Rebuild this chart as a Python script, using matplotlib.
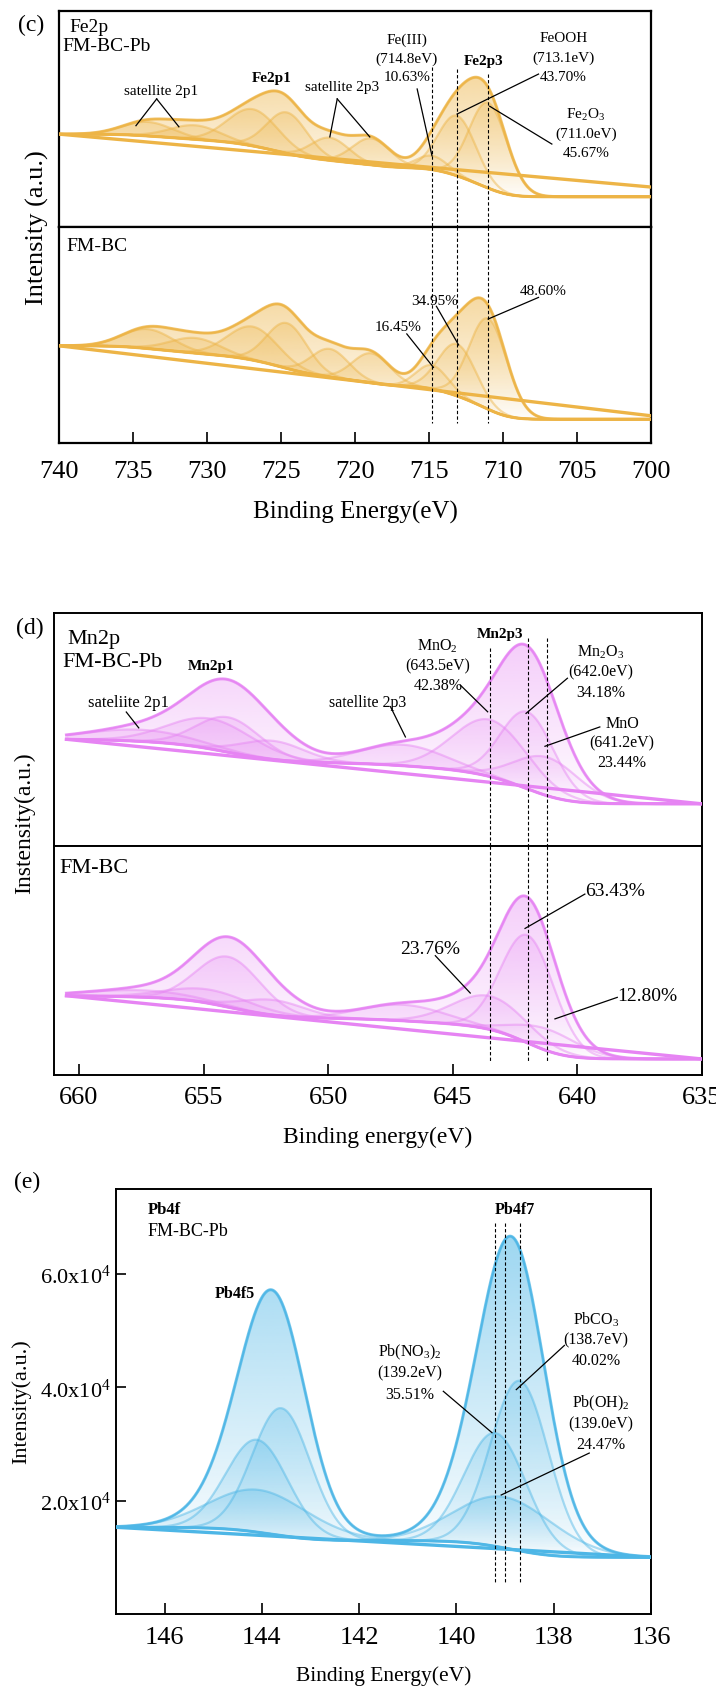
import numpy as np
import matplotlib
matplotlib.use('Agg')
import matplotlib.pyplot as plt
from matplotlib.path import Path
from matplotlib.patches import PathPatch
from matplotlib.colors import to_rgb

plt.rcParams['font.family'] = ['Liberation Serif', 'DejaVu Serif']
plt.rcParams['mathtext.fontset'] = 'custom'
plt.rcParams['mathtext.rm'] = 'Liberation Serif'
plt.rcParams['mathtext.it'] = 'Liberation Serif:italic'
plt.rcParams['mathtext.bf'] = 'Liberation Serif:bold'

# ---- Fe2p fit (c) : peak centre (eV), height (a.u.), fwhm (eV)
fe_centers = [734.0, 730.8, 726.9, 724.6, 721.7, 718.9, 714.8, 713.1, 711.0]
fe_fwhm = [4.0, 4.0, 4.0, 3.2, 3.0, 3.0, 2.5, 3.0, 3.0]
fe_pb_heights = [6.5, 6.5, 17.0, 19.0, 10.5, 12.3, 6.4, 27.8, 39.5]
fe_bc_heights = [9.0, 7.0, 15.5, 21.0, 13.0, 13.7, 11.0, 24.0, 42.0]
fe_pb_bg = [43.0, 14.0, 18.5]   # high-BE end, low-BE end, end of linear line
fe_bc_bg = [45.0, 11.0, 12.6]
fe_range = [740, 700]
fe_ticks = [740, 735, 730, 725, 720, 715, 710, 705, 700]
fe_marks = [714.8, 713.1, 711.0]

# ---- Mn2p fit (d)
mn_centers = [657.5, 654.7, 654.0, 652.2, 647.0, 643.5, 642.0, 641.2]
mn_fwhm = [5.0, 4.0, 3.0, 3.0, 4.0, 3.5, 2.5, 3.0]
mn_pb_heights = [5.0, 13.0, 15.0, 8.0, 9.0, 24.4, 33.0, 16.5]
mn_bc_heights = [3.0, 6.0, 22.0, 6.6, 7.0, 14.6, 47.0, 9.5]
mn_pb_bg = [45.8, 18.1, 18.1]
mn_bc_bg = [34.6, 7.0, 7.0]
mn_range = [660.5, 635]
mn_ticks = [660, 655, 650, 645, 640, 635]
mn_marks = [643.5, 642.0, 641.2]

# ---- Pb4f fit (e)
pb_centers = [144.1, 144.05, 143.6, 139.2, 139.0, 138.7]
pb_fwhm = [1.5, 2.4, 1.4, 1.5, 2.4, 1.4]
pb_heights = [1.63e4, 0.75e4, 2.25e4, 2.0e4, 0.9e4, 3.0e4]
pb_bg = [1.53e4, 1.0e4, 1.0e4]
pb_range = [147, 136]
pb_xticks = [146, 144, 142, 140, 138, 136]
pb_yticks = [2e4, 4e4, 6e4]
pb_marks = [139.2, 139.0, 138.7]

FE = '#EDB446'
MN = '#E684F3'
PB = '#4DB6E6'

W, H = 716, 1690
fig = plt.figure(figsize=(W / 100, H / 100), dpi=100)


def box(left, top, right, bottom):
    return fig.add_axes([left / W, 1 - bottom / H, (right - left) / W, (bottom - top) / H])


def gauss(x, c, h, w):
    return h * np.exp(-4 * np.log(2) * (x - c) ** 2 / w ** 2)


def grad_fill(ax, x, ytop, ybot, color, a_top, a_bot, z):
    verts = np.concatenate([np.column_stack([x, ytop]), np.column_stack([x[::-1], ybot[::-1]])])
    patch = PathPatch(Path(verts), facecolor='none', edgecolor='none')
    ax.add_patch(patch)
    rgba = np.zeros((256, 1, 4))
    rgba[..., :3] = to_rgb(color)
    rgba[..., 3] = np.linspace(a_top, a_bot, 256)[:, None]
    im = ax.imshow(rgba, extent=[x.min(), x.max(), ybot.min(), ytop.max()],
                   aspect='auto', origin='upper', zorder=z, interpolation='bilinear')
    im.set_clip_path(patch)


def spectrum(ax, xr, centers, heights, fwhm, bg_vals, color, fill_a=0.32, env_a=0.5):
    x = np.linspace(xr[0], xr[1], 1200)
    comps = np.array([gauss(x, c, h, w) for c, h, w in zip(centers, heights, fwhm)])
    tot = comps.sum(axis=0)
    cum = np.cumsum(tot[::-1])[::-1]
    hi, lo, lend = bg_vals
    bg = lo + (hi - lo) * cum / cum[0]
    env = bg + tot
    grad_fill(ax, x, env, bg, color, env_a, 0.02, 1)
    for comp in comps:
        grad_fill(ax, x, bg + comp, bg, color, fill_a, 0.0, 2)
        ax.plot(x, bg + comp, color=color, lw=1.6, alpha=0.45, zorder=3)
    ax.plot(x, env, color=color, lw=2.2, alpha=0.75, zorder=4)
    ax.plot(x, env, color=color, lw=1.2, alpha=0.9, zorder=4)
    ax.plot(x, bg, color=color, lw=2.2, alpha=0.9, zorder=4)
    ax.plot([x[0], x[-1]], [hi, lend], color=color, lw=2.4, zorder=4)


def note(ax, lines, xytext, fs, dy):
    for i, s in enumerate(lines):
        ax.text(xytext[0], xytext[1] - i * dy, s, fontsize=fs, ha='center', va='center', zorder=6)


def leader(ax, p0, p1):
    ax.plot([p0[0], p1[0]], [p0[1], p1[1]], color='k', lw=0.9, zorder=6)


def vmarks(ax, xs, y0s, y1s):
    for xv, a, b in zip(xs, y0s, y1s):
        ax.plot([xv, xv], [a, b], color='k', lw=0.8, ls=(0, (3, 2)), zorder=5)


def style(ax, xr, ticks=None, lw=1.6, pad=12):
    ax.set_xlim(xr)
    ax.set_ylim(0, 100)
    ax.set_yticks([])
    for s in ax.spines.values():
        s.set_linewidth(lw)
    if ticks is None:
        ax.set_xticks([])
    else:
        ax.set_xticks(ticks)
        ax.tick_params(axis='x', direction='in', length=8, width=1.2, labelsize=19, pad=pad)


# ================= (c) Fe2p =================
ca = box(59, 12, 651, 228)
cb = box(59, 228, 651, 444)
spectrum(ca, fe_range, fe_centers, fe_pb_heights, fe_fwhm, fe_pb_bg, FE)
spectrum(cb, fe_range, fe_centers, fe_bc_heights, fe_fwhm, fe_bc_bg, FE)
style(ca, [740, 700])
style(cb, [740, 700], fe_ticks)
vmarks(ca, fe_marks, [74, 73, 70.8], [0, 0, 0])
vmarks(cb, fe_marks, [100, 100, 100], [9.3, 9.3, 9.3])
cb.set_xlabel('Binding Energy(eV)', fontsize=18, labelpad=13)
fig.text(37 / W, 1 - 228 / H, 'Intensity (a.u.)', rotation=90, fontsize=19, ha='center', va='center')
fig.text(18 / W, 1 - 25 / H, '(c)', fontsize=17, ha='left', va='center')
ca.text(0.017, 0.926, 'Fe2p', transform=ca.transAxes, fontsize=14, va='center')
ca.text(0.005, 0.84, 'FM-BC-Pb', transform=ca.transAxes, fontsize=14, va='center')
ca.text(733.1, 63.1, 'satellite 2p1', fontsize=11, ha='center', va='center')
leader(ca, (733.4, 59.3), (734.8, 46.9))
leader(ca, (733.4, 59.3), (731.9, 46.4))
ca.text(725.6, 69, 'Fe2p1', fontsize=11, fontweight='bold', ha='center', va='center')
ca.text(720.9, 65.1, 'satellite 2p3', fontsize=11, ha='center', va='center')
leader(ca, (721.2, 59.3), (721.7, 41.7))
leader(ca, (721.2, 59.3), (719.0, 41.7))
note(ca, ['Fe(III)', '(714.8eV)', '10.63%'], (716.5, 87), 11, 8.7)
leader(ca, (715.8, 63.9), (714.8, 33))
ca.text(711.3, 77, 'Fe2p3', fontsize=11, fontweight='bold', ha='center', va='center')
note(ca, ['FeOOH', '(713.1eV)', '43.70%'], (705.9, 87.8), 11, 9)
leader(ca, (707.6, 70.8), (713.1, 52.3))
note(ca, [r'Fe$_2$O$_3$', '(711.0eV)', '45.67%'], (704.4, 52.3), 11, 9)
leader(ca, (706.7, 38.4), (710.9, 55.9))
cb.text(0.013, 0.913, 'FM-BC', transform=cb.transAxes, fontsize=14, va='center')
cb.text(707.3, 70.5, '48.60%', fontsize=11, ha='center', va='center')
leader(cb, (707.6, 67.4), (711.0, 57.4))
cb.text(714.6, 65.9, '34.95%', fontsize=11, ha='center', va='center')
leader(cb, (714.5, 63.3), (713.0, 45.4))
cb.text(717.1, 54, '16.45%', fontsize=11, ha='center', va='center')
leader(cb, (716.5, 50.5), (714.7, 35))

# ================= (d) Mn2p =================
da = box(54, 614, 702, 847)
db = box(54, 847, 702, 1076)
spectrum(da, mn_range, mn_centers, mn_pb_heights, mn_fwhm, mn_pb_bg, MN, 0.25, 0.4)
spectrum(db, mn_range, mn_centers, mn_bc_heights, mn_fwhm, mn_bc_bg, MN, 0.25, 0.4)
style(da, [661, 635], lw=1.4)
style(db, [661, 635], mn_ticks, lw=1.4, pad=8)
vmarks(da, mn_marks, [84.9, 89.2, 89.2], [0, 0, 0])
vmarks(db, mn_marks, [100, 100, 100], [5.5, 5.5, 5.5])
db.set_xlabel('Binding energy(eV)', fontsize=17, labelpad=13)
fig.text(25 / W, 1 - 823 / H, 'Instensity(a.u.)', rotation=90, fontsize=17, ha='center', va='center')
fig.text(16 / W, 1 - 628 / H, '(d)', fontsize=17, ha='left', va='center')
da.text(0.02, 0.892, 'Mn2p', transform=da.transAxes, fontsize=16, va='center')
da.text(0.013, 0.79, 'FM-BC-Pb', transform=da.transAxes, fontsize=16, va='center')
da.text(654.7, 77.4, 'Mn2p1', fontsize=11, fontweight='bold', ha='center', va='center')
da.text(658.0, 62, 'sateliite 2p1', fontsize=12, ha='center', va='center')
leader(da, (658.1, 57.5), (657.6, 50.7))
da.text(648.4, 62, 'satellite 2p3', fontsize=11.5, ha='center', va='center')
leader(da, (647.5, 59.8), (646.9, 46.8))
note(da, [r'MnO$_2$', '(643.5eV)', '42.38%'], (645.6, 86.3), 11.5, 8.6)
leader(da, (644.7, 69.1), (643.6, 57.6))
da.text(643.1, 91.4, 'Mn2p3', fontsize=11, fontweight='bold', ha='center', va='center')
note(da, [r'Mn$_2$O$_3$', '(642.0eV)', '34.18%'], (639.05, 83.5), 11.5, 8.6)
leader(da, (640.4, 72), (642.06, 56.9))
note(da, ['MnO', '(641.2eV)', '23.44%'], (638.2, 52.6), 11.5, 8.2)
leader(da, (639.1, 51.1), (641.3, 42.8))
db.text(0.009, 0.907, 'FM-BC', transform=db.transAxes, fontsize=16, va='center')
db.text(638.5, 80.5, '63.43%', fontsize=14, ha='center', va='center')
leader(db, (639.7, 79), (642.1, 64))
db.text(645.9, 55.3, '23.76%', fontsize=14, ha='center', va='center')
leader(db, (645.7, 52.1), (644.3, 35.8))
db.text(637.2, 34.9, '12.80%', fontsize=14, ha='center', va='center')
leader(db, (638.4, 33.9), (640.9, 24.5))

# ================= (e) Pb4f =================
ea = box(116, 1190, 651, 1615)
spectrum(ea, pb_range, pb_centers, pb_heights, pb_fwhm, pb_bg, PB, 0.3, 0.55)
ea.set_xlim(147, 136)
ea.set_ylim(0, 7.5e4)
ea.set_xticks(pb_xticks)
ea.set_yticks(pb_yticks)
ea.set_yticklabels(['%.1fx10$^4$' % (v / 1e4) for v in pb_yticks])
ea.tick_params(axis='x', direction='in', length=8, width=1.2, labelsize=19, pad=9)
ea.tick_params(axis='y', direction='in', length=7, width=1.2, labelsize=16, pad=4)
for s in ea.spines.values():
    s.set_linewidth(1.4)
vmarks(ea, pb_marks, [6.9e4] * 3, [0.56e4] * 3)
ea.set_xlabel('Binding Energy(eV)', fontsize=15.5, labelpad=12)
fig.text(21 / W, 1 - 1402 / H, 'Intensity(a.u.)', rotation=90, fontsize=16, ha='center', va='center')
fig.text(14 / W, 1 - 1182 / H, '(e)', fontsize=17, ha='left', va='center')
ea.text(146.35, 7.14e4, 'Pb4f', fontsize=12, fontweight='bold', ha='left', va='center')
ea.text(146.35, 6.77e4, 'FM-BC-Pb', fontsize=13, ha='left', va='center')
ea.text(138.8, 7.14e4, 'Pb4f7', fontsize=11.5, fontweight='bold', ha='center', va='center')
ea.text(144.55, 5.67e4, 'Pb4f5', fontsize=11.5, fontweight='bold', ha='center', va='center')
note(ea, [r'Pb(NO$_3$)$_2$', '(139.2eV)', '35.51%'], (140.95, 4.64e4), 11.5, 0.375e4)
leader(ea, (140.27, 3.93e4), (139.27, 3.2e4))
note(ea, [r'PbCO$_3$', '(138.7eV)', '40.02%'], (137.13, 5.21e4), 11.5, 0.365e4)
leader(ea, (137.78, 4.74e4), (138.77, 3.96e4))
note(ea, [r'Pb(OH)$_2$', '(139.0eV)', '24.47%'], (137.04, 3.73e4), 11.5, 0.365e4)
leader(ea, (137.27, 2.84e4), (139.08, 2.1e4))

fig.savefig('out.png', dpi=100)
